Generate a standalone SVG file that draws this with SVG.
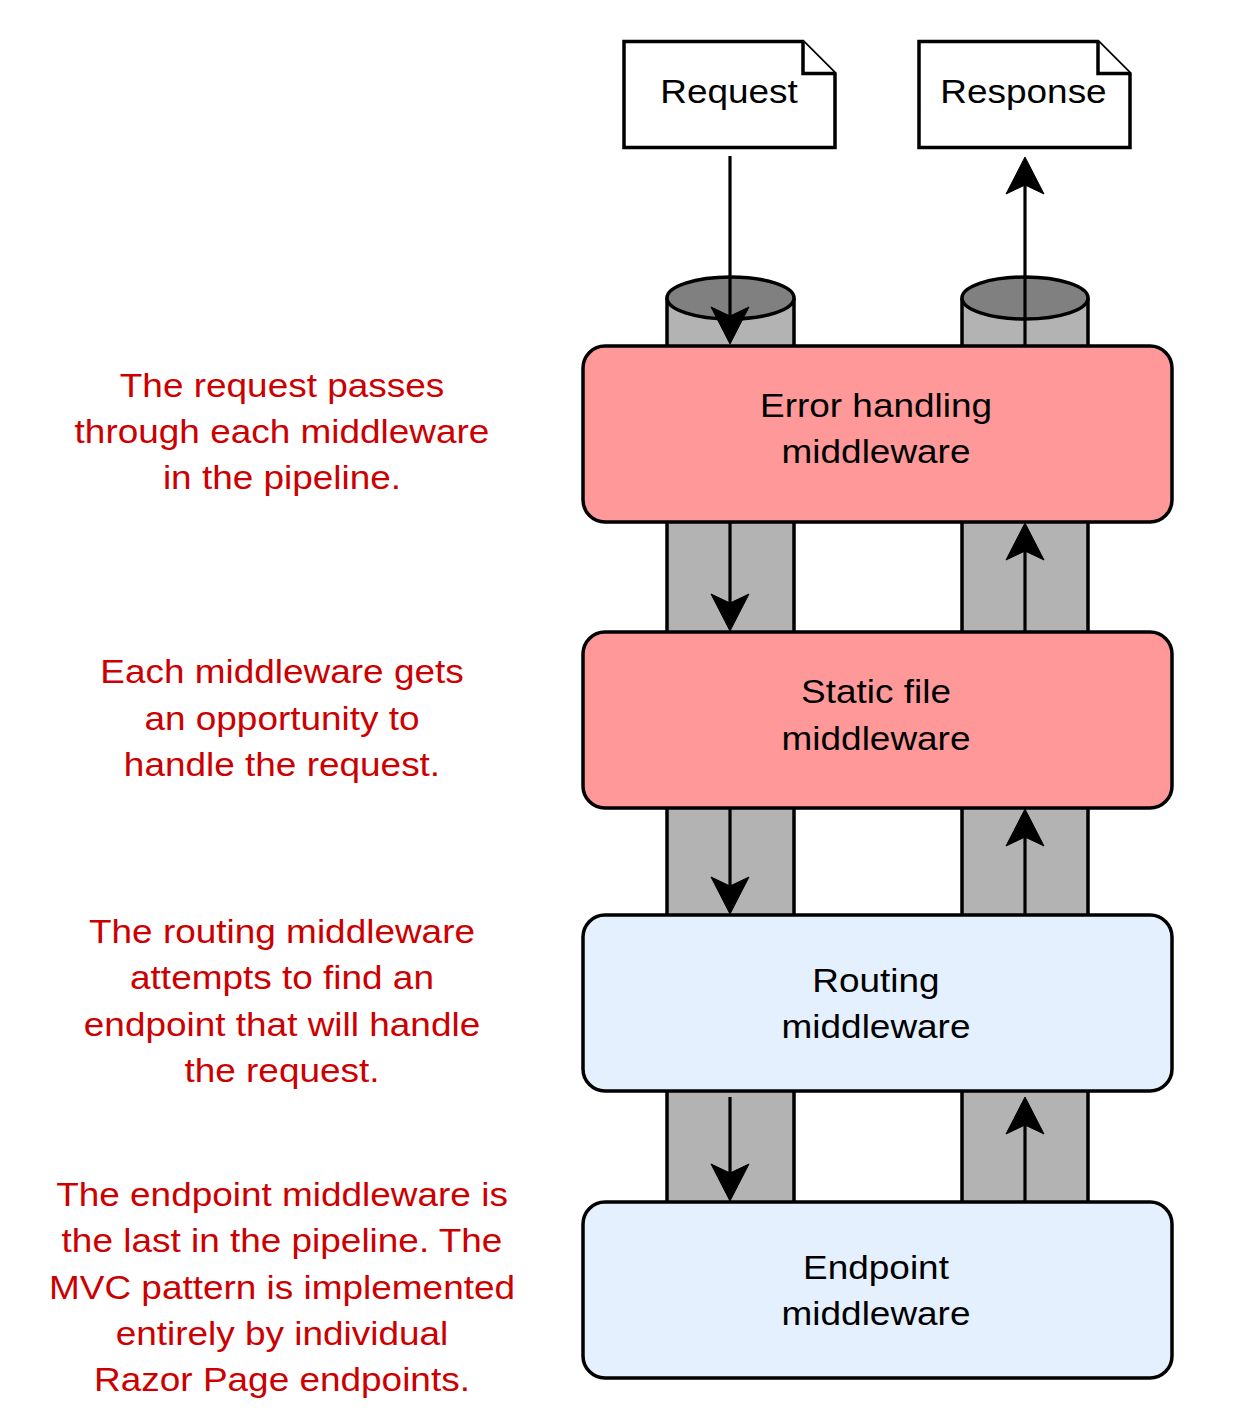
<svg xmlns="http://www.w3.org/2000/svg" width="1235" height="1410" viewBox="0 0 1235 1410">
  <style>
    .lbl { font-family: "Liberation Sans", Arial, Helvetica, sans-serif; font-size: 33px; text-anchor: middle; fill: #000000; }
    .note { font-family: "Liberation Sans", Arial, Helvetica, sans-serif; font-size: 33px; text-anchor: middle; fill: #CC0000; }
    .box { stroke: #000000; stroke-width: 3.5; }
    .red { fill: #FF9999; }
    .blue { fill: #E4F0FE; }
    .doc { fill: #FFFFFF; stroke: #000000; stroke-width: 3.5; stroke-linejoin: miter; }
    .pipe { fill: #B3B3B3; }
    .pipeEdge { stroke: #000000; stroke-width: 3.5; fill: none; }
    .pipeTop { fill: #808080; stroke: #000000; stroke-width: 3.5; }
    .conn { stroke: #000000; stroke-width: 3.2; fill: none; marker-end: url(#arrow); }
  </style>
  <defs>
    <marker id="arrow" markerUnits="userSpaceOnUse" viewBox="-12 -22 44 44" markerWidth="44" markerHeight="44" refX="0" refY="0" orient="auto">
      <path d="M28,0 L-9,-19 L0,0 L-9,19 Z" fill="#000000" stroke="#000000" stroke-width="1" stroke-linejoin="miter"/>
    </marker>
  </defs>
  <rect width="1235" height="1410" fill="#FFFFFF"/>

  <!-- pipes -->
  <g id="pipe-request">
    <rect class="pipe" x="667" y="298" width="127" height="904"/>
    <path class="pipeEdge" d="M667,298 V1202 M794,298 V1202"/>
    <ellipse class="pipeTop" cx="730.5" cy="298" rx="63.5" ry="21"/>
  </g>
  <g id="pipe-response">
    <rect class="pipe" x="962" y="298" width="126" height="904"/>
    <path class="pipeEdge" d="M962,298 V1202 M1088,298 V1202"/>
    <ellipse class="pipeTop" cx="1025" cy="298" rx="63" ry="21"/>
  </g>

  <!-- documents -->
  <g id="request">
    <path class="doc" d="M624,41.5 H803 L835,73.5 V147.5 H624 Z"/>
    <path class="doc" d="M803,41.5 V73.5 H835" fill="none"/>
    <text class="lbl" transform="translate(729,0) scale(1.12,1)" x="0" y="103">Request</text>
  </g>
  <g id="response">
    <path class="doc" d="M919,41.5 H1098 L1130,73.5 V147.5 H919 Z"/>
    <path class="doc" d="M1098,41.5 V73.5 H1130" fill="none"/>
    <text class="lbl" transform="translate(1023.5,0) scale(1.12,1)" x="0" y="103">Response</text>
  </g>

  <!-- middleware boxes -->
  <g id="error-handling">
    <rect class="box red" x="583" y="346" width="589" height="176" rx="22"/>
    <text class="lbl" transform="translate(876,0) scale(1.12,1)" y="417"><tspan x="0">Error handling</tspan><tspan x="0" y="463">middleware</tspan></text>
  </g>
  <g id="static-file">
    <rect class="box red" x="583" y="632" width="589" height="176" rx="22"/>
    <text class="lbl" transform="translate(876,0) scale(1.12,1)" y="703"><tspan x="0">Static file</tspan><tspan x="0" y="750">middleware</tspan></text>
  </g>
  <g id="routing">
    <rect class="box blue" x="583" y="915" width="589" height="176" rx="22"/>
    <text class="lbl" transform="translate(876,0) scale(1.12,1)" y="992"><tspan x="0">Routing</tspan><tspan x="0" y="1038">middleware</tspan></text>
  </g>
  <g id="endpoint">
    <rect class="box blue" x="583" y="1202" width="589" height="176" rx="22"/>
    <text class="lbl" transform="translate(876,0) scale(1.12,1)" y="1279"><tspan x="0">Endpoint</tspan><tspan x="0" y="1325">middleware</tspan></text>
  </g>

  <!-- connectors -->
  <g id="connectors">
    <path class="conn" d="M730,156 V316"/>
    <path class="conn" d="M1025,346 V185"/>
    <path class="conn" d="M730,522 V603"/>
    <path class="conn" d="M1025,632 V551"/>
    <path class="conn" d="M730,808 V886"/>
    <path class="conn" d="M1025,915 V837"/>
    <path class="conn" d="M730,1097 V1173"/>
    <path class="conn" d="M1025,1202 V1125"/>
  </g>

  <!-- annotations -->
  <g id="note-request">
    <text class="note" transform="translate(282,0) scale(1.12,1)" y="397"><tspan x="0">The request passes</tspan><tspan x="0" y="443">through each middleware</tspan><tspan x="0" y="489">in the pipeline.</tspan></text>
  </g>
  <g id="note-opportunity">
    <text class="note" transform="translate(282,0) scale(1.12,1)" y="683"><tspan x="0">Each middleware gets</tspan><tspan x="0" y="730">an opportunity to</tspan><tspan x="0" y="776">handle the request.</tspan></text>
  </g>
  <g id="note-routing">
    <text class="note" transform="translate(282,0) scale(1.12,1)" y="943"><tspan x="0">The routing middleware</tspan><tspan x="0" y="989">attempts to find an</tspan><tspan x="0" y="1036">endpoint that will handle</tspan><tspan x="0" y="1082">the request.</tspan></text>
  </g>
  <g id="note-endpoint">
    <text class="note" transform="translate(282,0) scale(1.12,1)" y="1206"><tspan x="0">The endpoint middleware is</tspan><tspan x="0" y="1252">the last in the pipeline. The</tspan><tspan x="0" y="1299">MVC pattern is implemented</tspan><tspan x="0" y="1345">entirely by individual</tspan><tspan x="0" y="1391">Razor Page endpoints.</tspan></text>
  </g>
</svg>
